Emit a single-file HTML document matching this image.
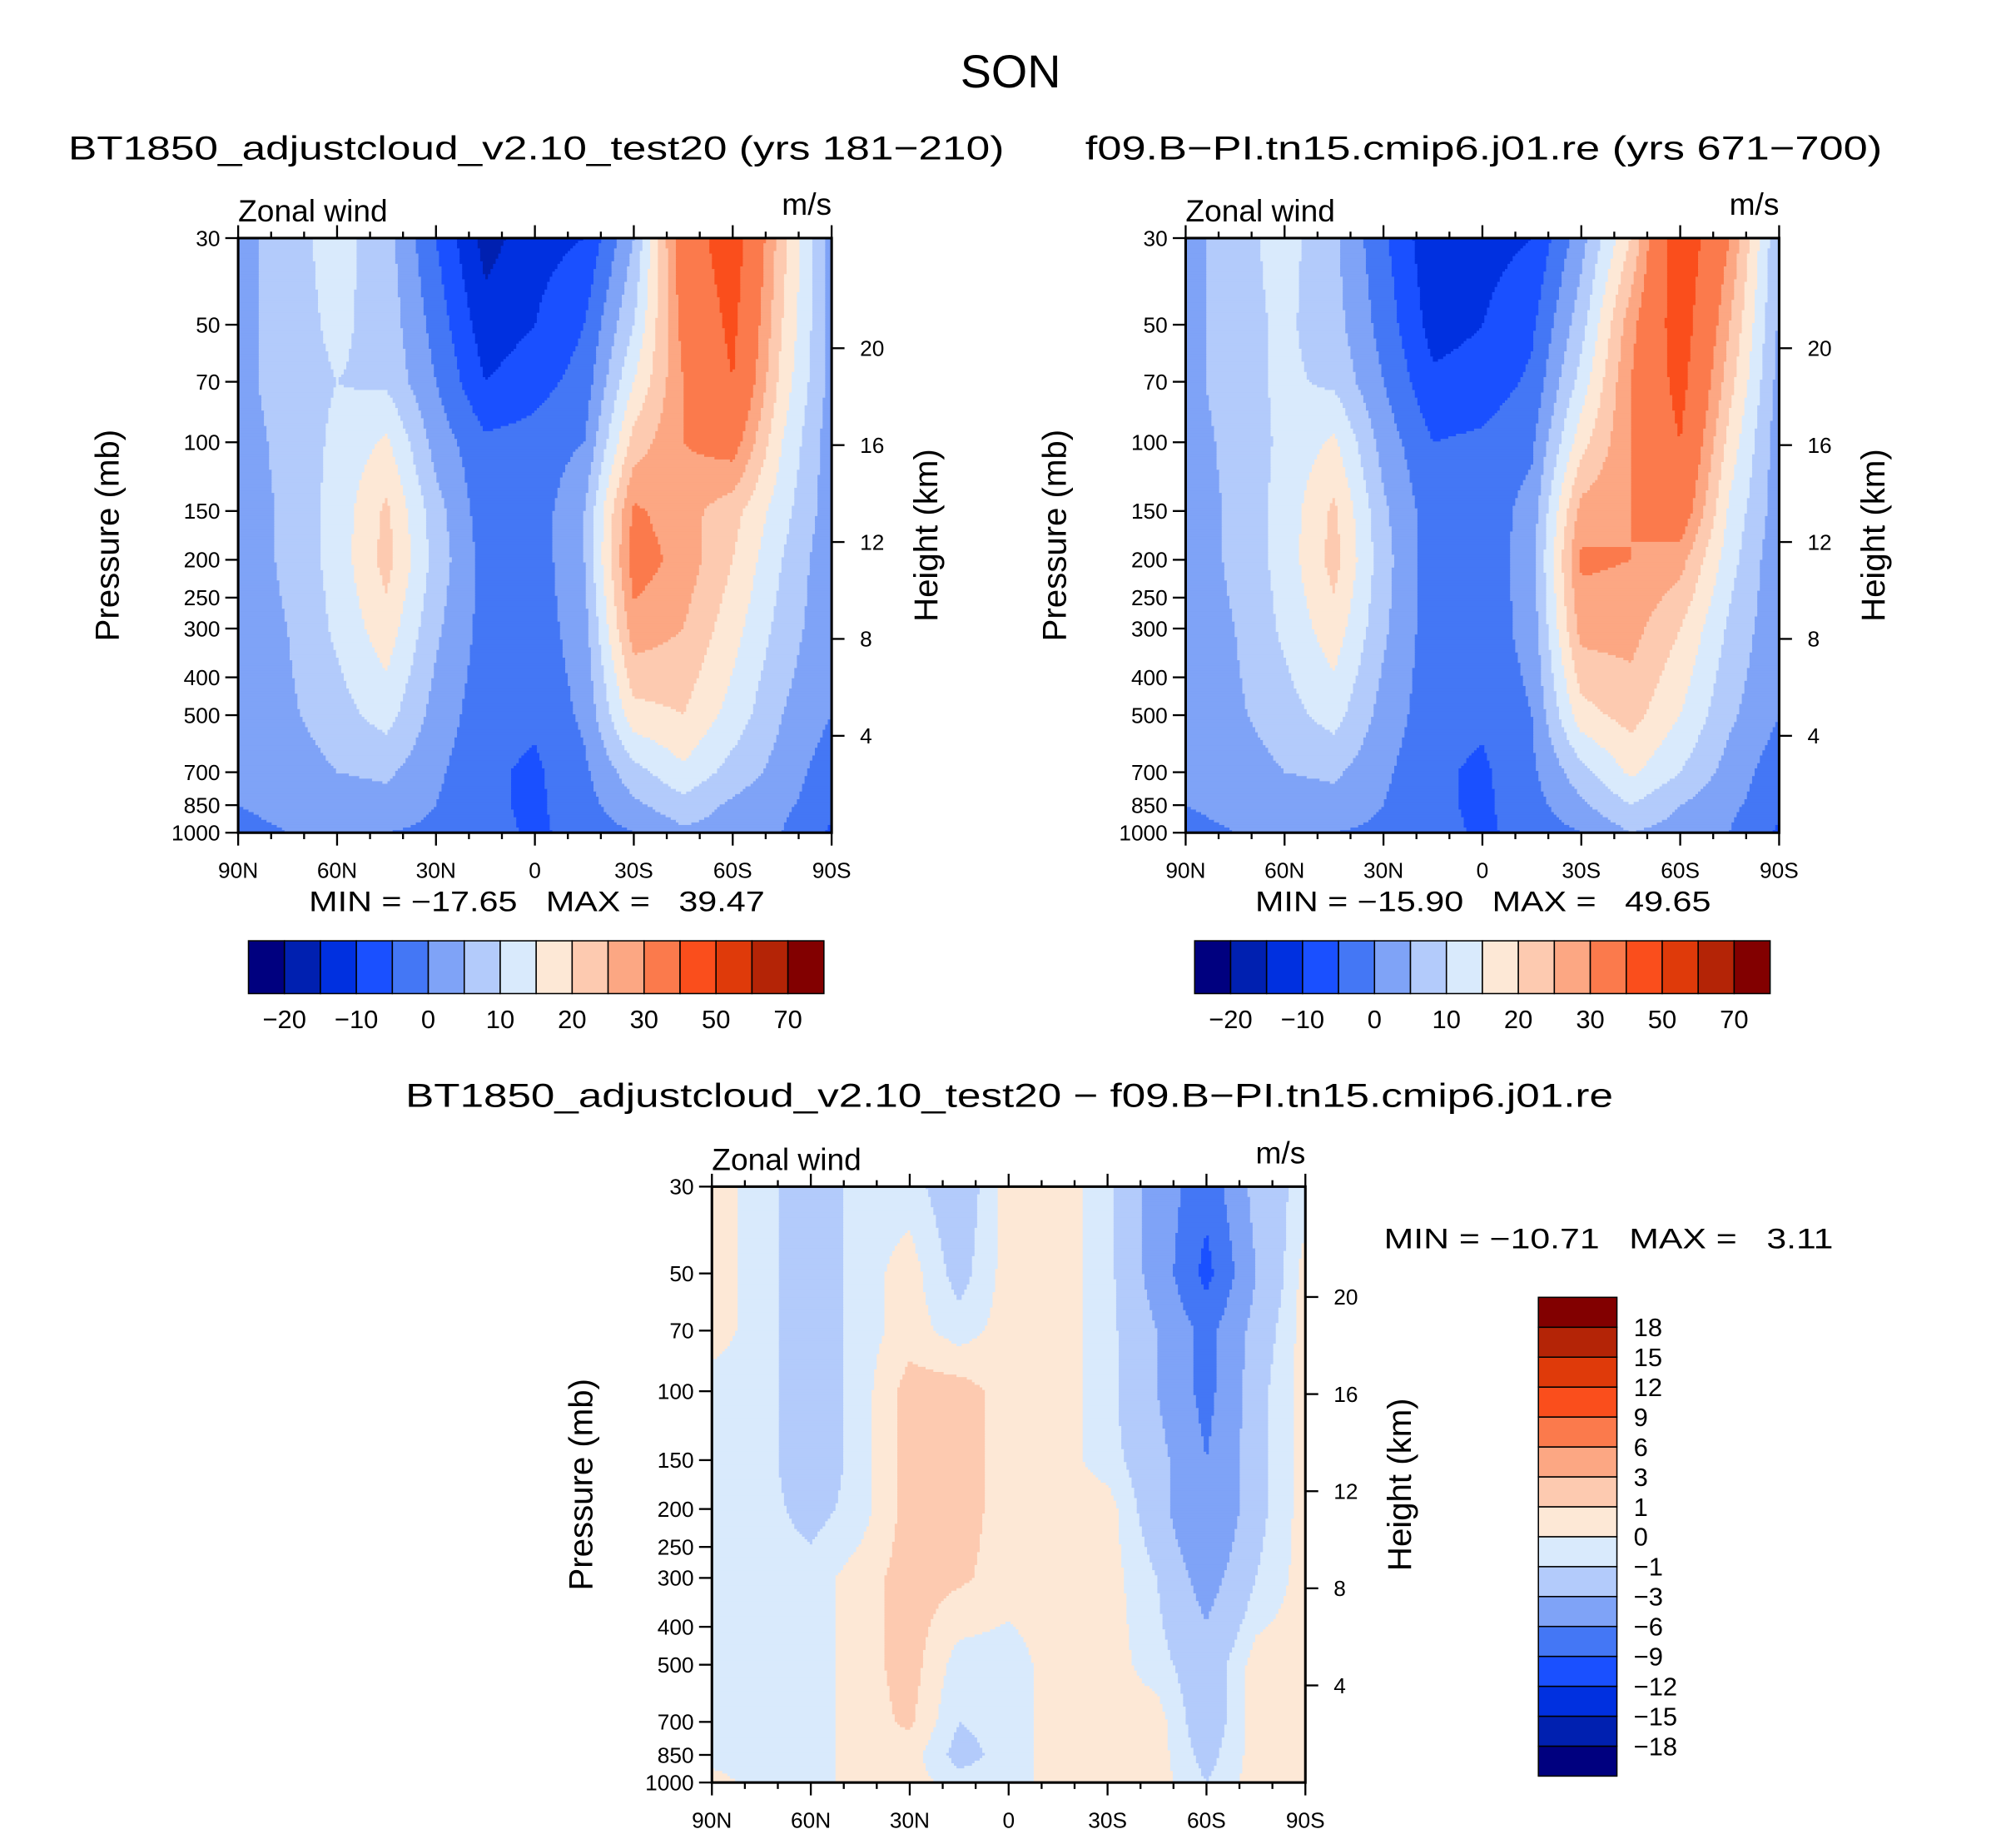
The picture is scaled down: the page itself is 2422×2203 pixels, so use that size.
<!DOCTYPE html>
<html><head><meta charset="utf-8"><style>
html,body{margin:0;padding:0;background:#fff;}
svg{display:block;font-family:"Liberation Sans",sans-serif;}
.pre{white-space:pre;}
</style></head><body>
<svg id="fig" width="2422" height="2203" viewBox="0 0 1566 1425" preserveAspectRatio="none" xmlns="http://www.w3.org/2000/svg">
<rect width="1600" height="1450" fill="#fff"/>
<text x="785" y="68" font-size="36" text-anchor="middle">SON</text>
<text x="53" y="124" font-size="26" textLength="727" lengthAdjust="spacingAndGlyphs">BT1850_adjustcloud_v2.10_test20 (yrs 181−210)</text>
<text x="843" y="124" font-size="26" textLength="619" lengthAdjust="spacingAndGlyphs">f09.B−PI.tn15.cmip6.j01.re (yrs 671−700)</text>
<text x="315" y="860" font-size="26" textLength="938" lengthAdjust="spacingAndGlyphs">BT1850_adjustcloud_v2.10_test20 − f09.B−PI.tn15.cmip6.j01.re</text>
<g id="plots"></g>
</svg>
<script>
const lats = [90,75,60,45,30,15,0,-15,-30,-45,-60,-75,-90];
const plevs = [30,50,70,100,150,200,300,500,700,850,1000];
const ptickLabels = [30,50,70,100,150,200,250,300,400,500,700,850,1000];
const latTickLabels = ["90N","60N","30N","0","30S","60S","90S"];
const htTicks = [4,8,12,16,20];
const field1 = [
[3,8,12,7,-5,-17,-12,-10,5,35,45,22,3],
[3,8,11,8,-2,-13,-10,-5,10,32,42,20,3],
[3,8,10,9,0,-10,-7,-3,15,30,40,18,3],
[2,7,11,16,3,-4,-3,0,22,30,33,15,2],
[2,6,12,21,7,-3,-3,5,31,27,22,12,2],
[2,6,12,22,8,-2,-3,5,33,28,20,10,1],
[2,5,11,18,6,-2,-3,3,28,25,17,8,1],
[1,4,8,12,3,-3,-4,1,18,20,13,5,0],
[0,2,5,6,1,-4,-6,-1,8,14,8,3,-3],
[0,1,2,3,0,-4,-6,-2,4,8,4,1,-3],
[-1,0,0,0,-1,-3,-6,-3,0,4,3,0,-6]];
const field2 = [
[3,8,12,6,-4,-14,-12,-10,3,20,47,30,5],
[3,8,11,7,-2,-12,-10,-6,8,28,45,25,4],
[3,8,11,9,0,-9,-8,-4,12,30,43,22,3],
[2,7,11,16,3,-5,-4,-1,18,30,40,18,2],
[2,6,12,21,6,-3,-3,2,27,30,35,14,2],
[2,6,12,22,7,-3,-4,3,31,30,27,12,1],
[2,5,11,18,6,-3,-3,2,27,27,20,9,1],
[1,4,8,12,3,-3,-4,0,18,22,15,6,0],
[0,2,5,6,1,-4,-6,-1,8,16,10,3,-3],
[0,1,2,3,0,-4,-6,-2,4,10,5,1,-3],
[-1,0,0,0,-1,-3,-6,-3,0,5,3,0,-6]];
const field3 = [
[0.5,-0.5,-2,-0.5,-0.5,-2,0.5,0.5,-0.5,-4,-8,-2,-0.5],
[0.5,-0.5,-2,-0.5,0.5,-1.5,0.5,0.5,-0.5,-4,-10,-3,0.5],
[0.5,-0.5,-2,-0.5,0.5,-0.5,0.5,0.5,-0.5,-3,-7,-2,0.5],
[-0.5,-0.5,-2,-0.5,1.5,1.5,0.5,0.5,-0.5,-3,-7,-1.5,0.5],
[-0.5,-0.5,-2,-0.5,1.5,1.5,0.5,0.5,-0.5,-2,-6,-1.5,0.5],
[-0.5,-0.5,-1.5,-0.5,1.5,1.5,0.5,0.5,0.5,-2,-6,-1.5,0.5],
[-0.5,-0.5,-0.5,0.5,1.5,1.2,0.5,0.5,0.5,-1,-4,-1,0.5],
[-0.5,-0.5,-0.5,0.5,1.5,-0.5,-0.5,0.5,0.5,-0.5,-2,0.5,0.5],
[-0.5,-0.5,-0.5,0.5,1.2,-1,-0.5,0.5,0.5,0.5,-2,0.5,0.5],
[-0.5,-0.5,-0.5,0.5,0.5,-1.5,-0.5,0.5,0.5,0.5,-1.5,0.5,0.5],
[0.5,-0.5,-0.5,0.5,0.5,-0.5,-0.5,0.5,0.5,0.5,-1,0.5,0.5]];
const levels12 = [-20,-15,-10,-5,0,5,10,15,20,25,30,40,50,60,70];
const levelLabels12 = ["−20","−10","0","10","20","30","50","70"];
const levels3 = [-18,-15,-12,-9,-6,-3,-1,0,1,3,6,9,12,15,18];
const stats = [["−17.65","39.47"],["−15.90","49.65"],["−10.71","3.11"]];
const colors = ["#00007f","#0020b0","#0030e0","#1a50ff","#4477f5","#7fa3f7","#b3cbfb","#d9eafc","#fde8d6","#fdcab0","#fca783","#fb7a4c","#fa4e1c","#df3a0a","#b42406","#820000"];

const NS="http://www.w3.org/2000/svg";
const root=document.getElementById('plots');
function el(tag,attrs,parent,txt){const e=document.createElementNS(NS,tag);for(const k in attrs)e.setAttribute(k,attrs[k]);if(txt!==undefined)e.textContent=txt;(parent||root).appendChild(e);return e;}

function drawPlot(x0,y0,W,H,field,levels,name){
  const g=el('g',{});
  
  
  const xs=lat=>x0+(90-lat)/180*W;
  const ys=p=>y0+Math.log(p/30)/Math.log(1000/30)*H;
  const colX=lats.map(xs), rowY=plevs.map(ys);
  function val(px,py){
    let i=0;while(i<colX.length-2&&px>colX[i+1])i++;
    let j=0;while(j<rowY.length-2&&py>rowY[j+1])j++;
    const tx=Math.min(1,Math.max(0,(px-colX[i])/(colX[i+1]-colX[i])));
    const ty=Math.min(1,Math.max(0,(py-rowY[j])/(rowY[j+1]-rowY[j])));
    const a=field[j][i],b=field[j][i+1],c=field[j+1][i],d=field[j+1][i+1];
    return (a*(1-tx)+b*tx)*(1-ty)+(c*(1-tx)+d*tx)*ty;
  }
  function ci(v){let k=0;while(k<levels.length&&v>=levels[k])k++;return k;}
  const cs=2;
  for(let py=0;py<H;py+=cs){
    let run=null,startX=0;
    const hh=Math.min(cs,H-py)+0.6;
    for(let px=0;px<W;px+=cs){
      const k=ci(val(x0+px+cs/2,y0+py+cs/2));
      if(k!==run){
        if(run!==null){const r=el('rect',{x:x0+startX,y:y0+py,width:px-startX+0.6,height:hh,fill:colors[run]},g);
          
          }
        run=k;startX=px;
      }
    }
    const r=el('rect',{x:x0+startX,y:y0+py,width:W-startX,height:hh,fill:colors[run]},g);
    
    
  }
  const f=el('rect',{x:x0,y:y0,width:W,height:H,fill:'none',stroke:'#000','stroke-width':2});
  
  
  for(let lat=90;lat>=-90;lat-=10){
    const x=xs(lat),maj=lat%30===0,L=maj?10:5;
    el('line',{x1:x,x2:x,y1:y0+H,y2:y0+H+L,stroke:'#000','stroke-width':1.5});
    el('line',{x1:x,x2:x,y1:y0,y2:y0-L,stroke:'#000','stroke-width':1.5});
  }
  latTickLabels.forEach((t,i)=>{const lat=90-i*30;
    const tt=el('text',{x:xs(lat),y:y0+H+35,'font-size':17,'text-anchor':'middle'},root,t);
    
    });
  ptickLabels.forEach(p=>{const y=ys(p);
    el('line',{x1:x0,x2:x0-10,y1:y,y2:y,stroke:'#000','stroke-width':1.5});
    const tt=el('text',{x:x0-14,y:y+6,'font-size':17,'text-anchor':'end'},root,String(p));
    
    });
  htTicks.forEach(h=>{const y=ys(1000*Math.exp(-h/7));
    el('line',{x1:x0+W,x2:x0+W+10,y1:y,y2:y,stroke:'#000','stroke-width':1.5});
    const tt=el('text',{x:x0+W+22,y:y+6,'font-size':17},root,String(h));
    
    });
  const a=el('text',{x:0,y:0,'font-size':26,'text-anchor':'middle',transform:`translate(${x0-93},${y0+H/2}) rotate(-90)`},root,'Pressure (mb)');
  
  const b=el('text',{x:0,y:0,'font-size':26,'text-anchor':'middle',transform:`translate(${x0+W+82},${y0+H/2}) rotate(-90)`},root,'Height (km)');
  
  const c=el('text',{x:x0,y:y0-13,'font-size':24},root,'Zonal wind');
  
  const d=el('text',{x:x0+W,y:y0-18,'font-size':24,'text-anchor':'end'},root,'m/s');
  
}
drawPlot(185,185,461,462,field1,levels12,'left-contour-plot');
drawPlot(921,185,461,462,field2,levels12,'right-contour-plot');
drawPlot(553,922,461,463,field3,levels3,'diff-contour-plot');

function statText(x,y,s,len){const t=el('text',{x:x,y:y,'font-size':22,'class':'pre',textLength:len,lengthAdjust:'spacingAndGlyphs'},root,'MIN = '+s[0]+'   MAX =   '+s[1]);
  }
statText(240,708,stats[0],354);statText(975,708,stats[1],354);statText(1075,970,stats[2],349);

function hbar(x0,y0,w,h){const bw=w/colors.length;
  colors.forEach((c,i)=>{const r=el('rect',{x:x0+i*bw,y:y0,width:bw,height:h,fill:c,stroke:'#000','stroke-width':1});
    });
  levelLabels12.forEach((t,i)=>{const tt=el('text',{x:x0+bw*(1+2*i),y:y0+h+27,'font-size':20,'text-anchor':'middle'},root,t);
    });}
hbar(193,731,447,41);hbar(928,731,447,41);
(function(){const x0=1195,y0=1008,w=61,h=372,bh=h/colors.length;
  colors.forEach((c,i)=>{const r=el('rect',{x:x0,y:y0+(colors.length-1-i)*bh,width:w,height:bh,fill:c,stroke:'#000','stroke-width':1});
    });
  levels3.forEach((v,i)=>{const y=y0+(colors.length-1-i)*bh;
    const tt=el('text',{x:x0+w+13,y:y+7,'font-size':20},root,(v<0?'−':'')+Math.abs(v));
    });
})();
</script>
</body></html>
